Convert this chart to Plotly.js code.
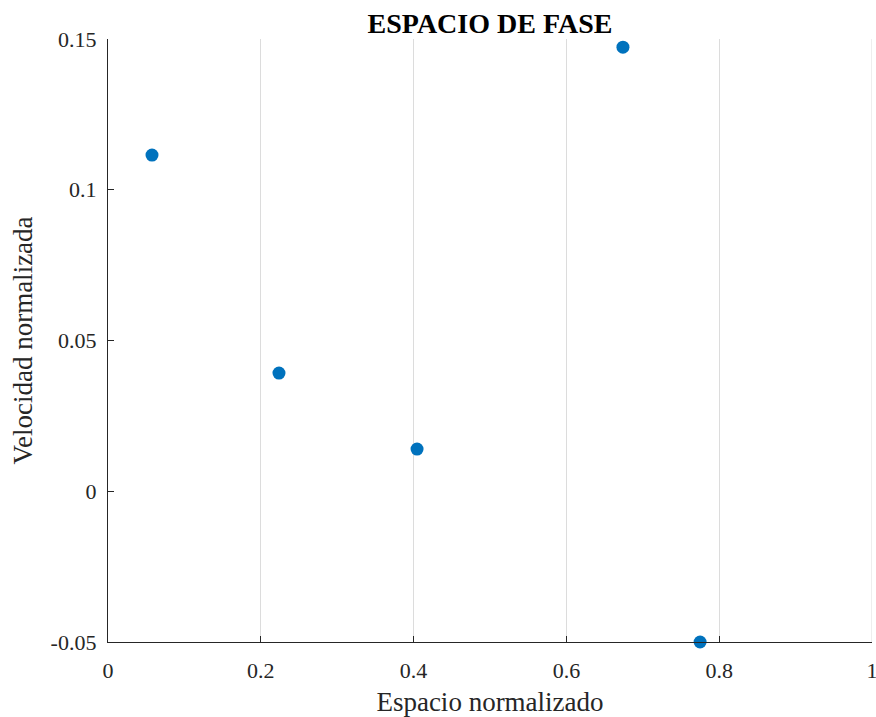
<!DOCTYPE html>
<html>
<head>
<meta charset="utf-8">
<script src="https://cdn.plot.ly/plotly-3.0.1.min.js"></script>
<style>html,body{margin:0;padding:0;background:#fff;}#chart{width:876px;height:717px;}</style>
</head>
<body>
<div id="chart"></div>
<script>
const espacio = [0.0576, 0.2238, 0.4045, 0.674, 0.775];
const velocidad = [0.1115, 0.0392, 0.0140, 0.1473, -0.0500];
const xTicks = [0, 0.2, 0.4, 0.6, 0.8, 1];
const xTickLabels = ['0', '0.2', '0.4', '0.6', '0.8', '1'];
const yTicks = [-0.05, 0, 0.05, 0.1, 0.15];
const yTickLabels = ['-0.05', '0', '0.05', '0.1', '0.15'];

const font = 'Liberation Serif';
const trace = {
  x: espacio, y: velocidad, type: 'scatter', mode: 'markers',
  marker: {color: '#0072BD', size: 13},
  cliponaxis: false, hoverinfo: 'x+y'
};
const layout = {
  width: 876, height: 717,
  margin: {l: 108, r: 4, t: 39, b: 75},
  paper_bgcolor: '#fff', plot_bgcolor: '#fff',
  font: {family: font, size: 22, color: '#262626'},
  showlegend: false,
  title: {text: '<b>ESPACIO DE FASE</b>', font: {family: font, size: 28, color: '#000'},
          x: 0.5, xref: 'paper', y: 0.968, yref: 'container', yanchor: 'middle'},
  shapes: [{type: 'line', xref: 'x', yref: 'paper', x0: xTicks[xTicks.length-1], x1: xTicks[xTicks.length-1], y0: 0, y1: 1,
            line: {color: '#dcdcdc', width: 1}, layer: 'below'}],
  xaxis: {
    range: [0, 1], tickvals: xTicks, ticktext: xTickLabels,
    showgrid: true, gridcolor: '#dcdcdc', gridwidth: 1,
    zeroline: false, showline: true, linecolor: '#262626', linewidth: 1.3,
    ticks: 'inside', ticklen: 6, tickcolor: '#262626',
    ticklabeloverflow: 'allow', ticklabelstandoff: 8,
    tickfont: {family: font, size: 22, color: '#262626'},
    title: {text: 'Espacio normalizado', font: {family: font, size: 27, color: '#262626'}, standoff: 10}
  },
  yaxis: {
    range: [-0.05, 0.15], tickvals: yTicks, ticktext: yTickLabels,
    showgrid: false, zeroline: false, showline: true, linecolor: '#262626', linewidth: 1.3,
    ticks: 'inside', ticklen: 6, tickcolor: '#262626',
    ticklabeloverflow: 'allow', ticklabelstandoff: 6,
    tickfont: {family: font, size: 22, color: '#262626'},
    title: {text: 'Velocidad normalizada', font: {family: font, size: 27, color: '#262626'}, standoff: 10}
  }
};
Plotly.newPlot('chart', [trace], layout, {displayModeBar: false});
</script>
</body>
</html>
